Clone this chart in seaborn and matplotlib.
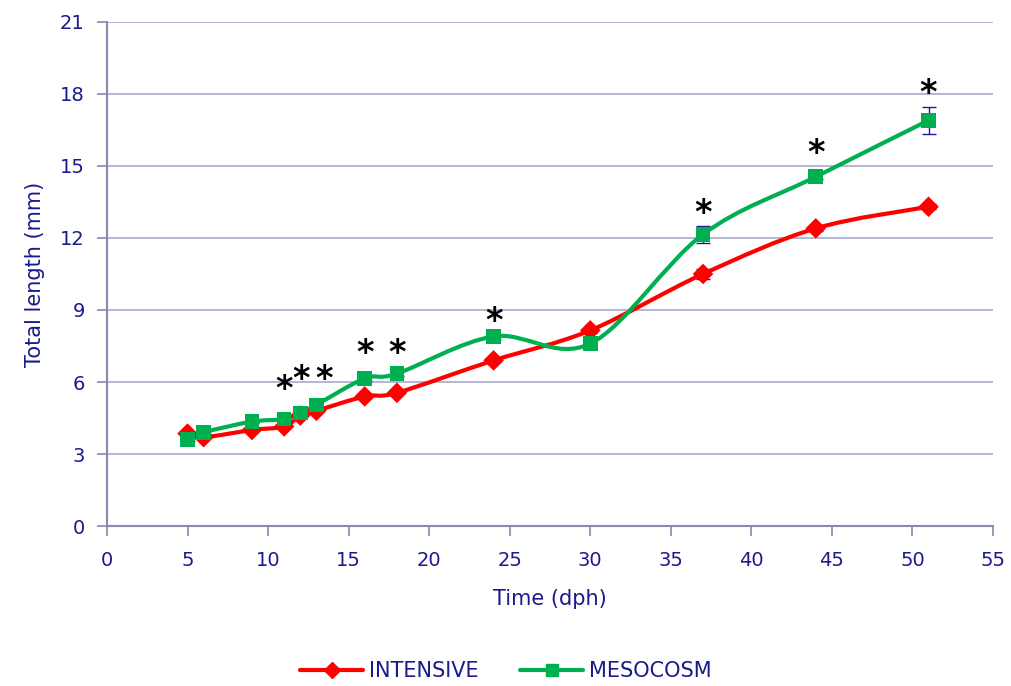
import numpy as np
import pandas as pd
import seaborn as sns
import matplotlib.pyplot as plt
from matplotlib.path import Path
from matplotlib.patches import PathPatch
from matplotlib.lines import Line2D

# Dados
dias = [5, 6, 9, 11, 12, 13, 16, 18, 24, 30, 37, 44, 51]
intensive = [3.85, 3.7, 4.0, 4.15, 4.6, 4.8, 5.4, 5.55, 6.9, 8.15, 10.5, 12.4, 13.3]
intensive_err = [0.05, 0.05, 0.05, 0.05, 0.05, 0.05, 0.05, 0.05, 0.05, 0.1, 0.2, 0.1, 0.1]
mesocosm = [3.6, 3.9, 4.35, 4.45, 4.7, 5.05, 6.15, 6.35, 7.9, 7.6, 12.15, 14.55, 16.9]
mesocosm_err = [0.05, 0.05, 0.05, 0.05, 0.05, 0.05, 0.1, 0.1, 0.1, 0.1, 0.35, 0.1, 0.55]

# asteriscos de significância (x, y)
ast_x = [11, 12.05, 13.45, 16, 18, 24, 37, 44, 51]
ast_y = [5.7, 6.1, 6.1, 7.2, 7.2, 8.5, 13.0, 15.5, 18.0]

cor_texto = '#1a1a8c'
cor_grade = '#a9a9cc'
vermelho = '#ff0000'
verde = '#00b050'

sns.set_style('white')
plt.rcParams['font.family'] = ['DejaVu Sans']

df = pd.DataFrame({'dia': dias * 2,
                   'comprimento': intensive + mesocosm,
                   'grupo': ['INTENSIVE'] * len(dias) + ['MESOCOSM'] * len(dias)})

fig = plt.figure(figsize=(10.12, 6.86), dpi=100)
ax = fig.add_axes([0.1057, 0.2332, 0.8755, 0.7348])


def curva_suave(xs, ys):
    # linha suavizada estilo Excel (Catmull-Rom em Bezier)
    pts = np.column_stack([xs, ys]).astype(float)
    verts = [pts[0]]
    codes = [Path.MOVETO]
    n = len(pts)
    for i in range(n - 1):
        p0 = pts[i - 1] if i > 0 else pts[i]
        p1 = pts[i]
        p2 = pts[i + 1]
        p3 = pts[i + 2] if i + 2 < n else pts[i + 1]
        c1 = p1 + (p2 - p0) / 6
        c2 = p2 - (p3 - p1) / 6
        verts += [c1, c2, p2]
        codes += [Path.CURVE4] * 3
    return Path(verts, codes)


for ys, cor in [(intensive, vermelho), (mesocosm, verde)]:
    ax.add_patch(PathPatch(curva_suave(dias, ys), facecolor='none',
                           edgecolor=cor, lw=3, zorder=3))

ax.errorbar(dias, intensive, yerr=intensive_err, fmt='none', ecolor='#1a1aa0',
            elinewidth=1, capsize=5, zorder=2)
ax.errorbar(dias, mesocosm, yerr=mesocosm_err, fmt='none', ecolor='#1a1aa0',
            elinewidth=1, capsize=5, zorder=2)

sns.scatterplot(data=df, x='dia', y='comprimento', hue='grupo', style='grupo',
                markers={'INTENSIVE': 'D', 'MESOCOSM': 's'},
                palette={'INTENSIVE': vermelho, 'MESOCOSM': verde},
                s=110, linewidth=0, legend=False, ax=ax, zorder=4)

for x, y in zip(ast_x, ast_y):
    ax.text(x, y, '*', fontsize=24, ha='center', va='center', color='black',
            fontweight='bold', zorder=5)

ax.set_xlim(0, 55)
ax.set_ylim(0, 21)
ax.set_xticks(range(0, 56, 5))
ax.set_yticks(range(0, 22, 3))
ax.yaxis.grid(True, color=cor_grade, lw=1.2)
ax.xaxis.grid(False)
ax.set_axisbelow(True)

for lado in ['top', 'right']:
    ax.spines[lado].set_visible(False)
for lado in ['left', 'bottom']:
    ax.spines[lado].set_color('#8888b0')
    ax.spines[lado].set_linewidth(1.5)

ax.tick_params(axis='both', colors='#8888b0', labelcolor=cor_texto,
               labelsize=14, length=7, width=1.2, direction='out',
               bottom=True, left=True)
ax.tick_params(axis='x', pad=11)
ax.tick_params(axis='y', pad=9)
ax.set_xlabel('Time (dph)', fontsize=15, color=cor_texto, labelpad=14)
ax.set_ylabel('Total length (mm)', fontsize=15, color=cor_texto, labelpad=11)

handles = [Line2D([], [], color=vermelho, lw=3, marker='D', markersize=8, label='INTENSIVE'),
           Line2D([], [], color=verde, lw=3, marker='s', markersize=9, label='MESOCOSM')]
leg = fig.legend(handles=handles, loc='lower center', ncol=2, frameon=False,
                 bbox_to_anchor=(0.5, -0.02), fontsize=15, handlelength=3,
                 columnspacing=2, handletextpad=0.3)
for t in leg.get_texts():
    t.set_color(cor_texto)

plt.savefig('out.png', dpi=100)
